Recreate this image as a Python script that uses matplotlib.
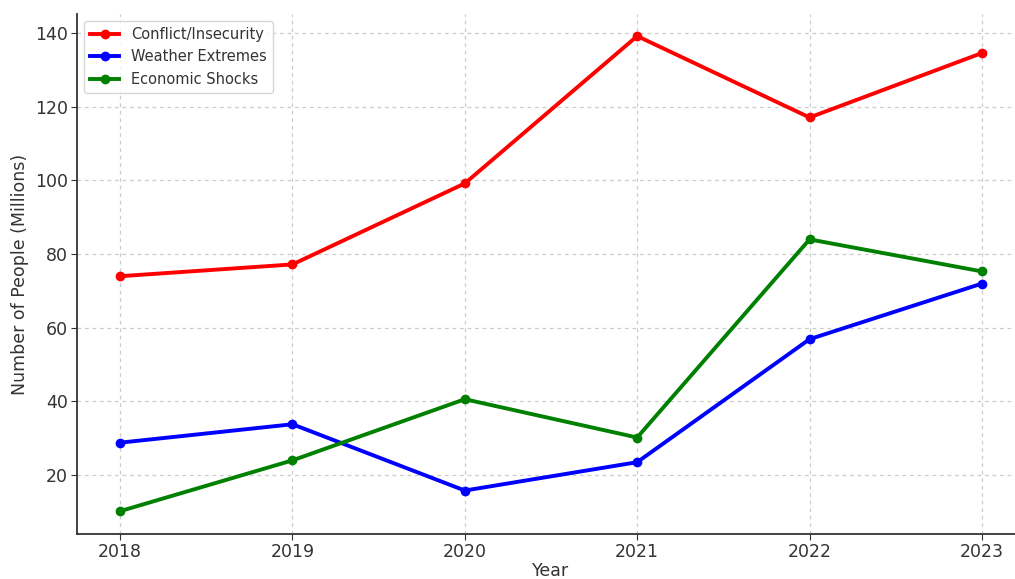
import matplotlib
matplotlib.use('Agg')
import matplotlib.pyplot as plt

# data
years = [2018, 2019, 2020, 2021, 2022, 2023]
conflict = [74.0, 77.2, 99.2, 139.2, 117.1, 134.6]
weather = [28.8, 33.8, 15.8, 23.5, 56.9, 72.0]
economic = [10.2, 24.0, 40.6, 30.2, 84.0, 75.3]

fig = plt.figure(figsize=(10.15, 5.79), dpi=100)
ax = fig.add_axes([77/1015, 1 - 534/579, 948/1015, 520/579])

ax.plot(years, conflict, '-o', color='red', lw=2.8, ms=6, label='Conflict/Insecurity')
ax.plot(years, weather, '-o', color='blue', lw=2.8, ms=6, label='Weather Extremes')
ax.plot(years, economic, '-o', color='green', lw=2.8, ms=6, label='Economic Shocks')

ax.set_xlim(2017.75, 2023.25)
ax.set_ylim(4.0, 145.2)
ax.set_xlabel('Year', fontsize=12.5, color='#333333', labelpad=1)
ax.set_ylabel('Number of People (Millions)', fontsize=12.5, color='#333333')
ax.tick_params(labelsize=12.5, colors='#333333', pad=2.5, length=4)
ax.grid(True, linestyle=(0, (3, 3)), color='#cccccc', lw=0.9)
for s in ['top', 'right']:
    ax.spines[s].set_visible(False)
for s in ['left', 'bottom']:
    ax.spines[s].set_linewidth(1.3)
    ax.spines[s].set_color('#333333')
leg = ax.legend(loc='upper left', fontsize=10.5)
for t in leg.get_texts():
    t.set_color('#333333')

fig.savefig('out.png', dpi=100)
